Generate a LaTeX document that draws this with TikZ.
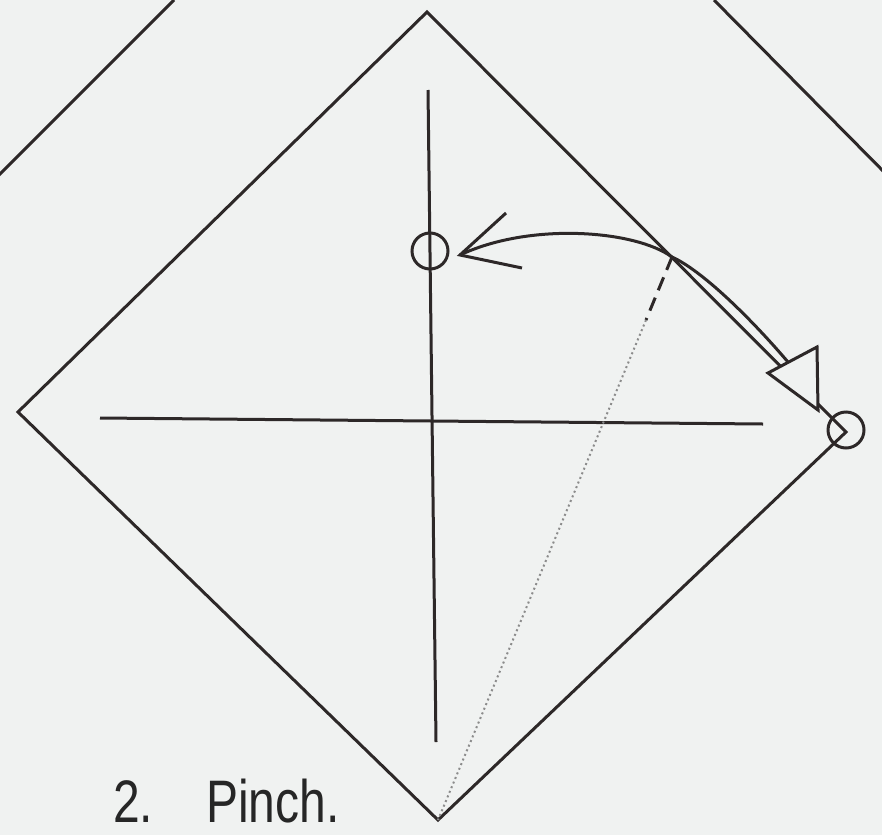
\documentclass[tikz,border=0pt]{standalone}
\usepackage{fontspec}
\setmainfont{Liberation Sans}
\definecolor{bgc}{RGB}{240,242,241}
\definecolor{ink}{RGB}{45,40,40}
\definecolor{dotc}{RGB}{140,140,140}
\tikzset{
  crease/.style={ink, line width=3pt},
  edge/.style={ink, line width=3pt, line join=miter},
  ring/.style={circle, draw=ink, line width=3pt, minimum size=36pt, inner sep=0pt},
  foldarrow/.style={ink, line width=3pt},
}
\begin{document}
\begin{tikzpicture}[x=1pt,y=-1pt]
\fill[bgc] (0,0) rectangle (882,835);
\useasboundingbox (0,0) rectangle (882,835);
% outer square edges
\coordinate (oa1) at (174,0);
\coordinate (oa2) at (-8,182);
\coordinate (ob1) at (714,0);
\coordinate (ob2) at (890,178);
\draw[edge] (oa1) -- (oa2);
\draw[edge] (ob1) -- (ob2);
% paper diamond
\coordinate (T) at (427,12);
\coordinate (R) at (846,432);
\coordinate (B) at (438,820);
\coordinate (L) at (18,412);
\draw[edge] (T) -- (R) -- (B) -- (L) -- cycle;
% creases
\coordinate (v1) at (428,90);
\coordinate (v2) at (436,742);
\coordinate (h1) at (100,418);
\coordinate (h2) at (763,424);
\draw[crease] (v1) -- (v2);
\draw[crease] (h1) -- (h2);
% circles
\node[ring] (c1) at (430,251) {};
\node[ring] (c2) at (846,430) {};
% fold point on edge
\coordinate (P) at (672,257);
\coordinate (D) at (646,320);
\draw[ink, line width=3pt, dash pattern=on 14pt off 8pt] (P) -- (D);
\draw[dotc, line width=2pt, dash pattern=on 2pt off 3pt] (D) -- (B);
% arrow to top circle
\coordinate (t1) at (460,255);
\coordinate (u1) at (506,213);
\coordinate (u2) at (522,268);
\draw[foldarrow] (P) .. controls (635,230) and (530,222) .. (t1);
\draw[foldarrow, line join=miter] (u1) -- (t1) -- (u2);
% arrow to right corner
\coordinate (e2) at (793,368);
\draw[foldarrow] (P) .. controls (705,272) and (758,326) .. (e2);
\coordinate (q1) at (768,373);
\coordinate (q2) at (817,347);
\coordinate (q3) at (818,410);
\draw[foldarrow, line join=miter, fill=bgc] (q1) -- (q2) -- (q3) -- cycle;
% caption
\node[anchor=base west, inner sep=0pt, font=\fontsize{60}{60}\selectfont, text=black!85] (cap) at (113,822) {\scalebox{0.8}[1]{2.\hspace{66pt}Pinch.}};
\end{tikzpicture}
\end{document}
